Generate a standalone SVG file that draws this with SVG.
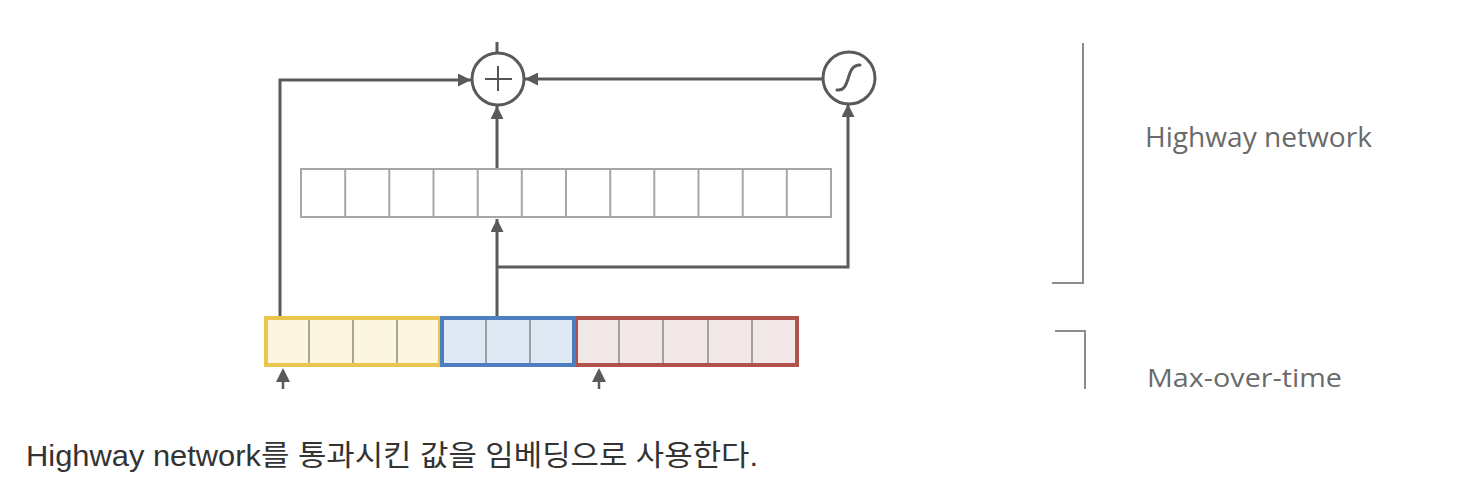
<svg xmlns="http://www.w3.org/2000/svg" width="1466" height="492" viewBox="0 0 1466 492">
<style>
.conn{fill:none;stroke:#5a5a5a;stroke-width:3}
.cell{fill:#fff;stroke:#a6a6a6;stroke-width:2}
.div{stroke:#a9a59a;stroke-width:2}
.lbl{font-family:"Open Sans","Liberation Sans",sans-serif;fill:#6a6a6a}
.brk{fill:none;stroke:#8c8c8c;stroke-width:2}
</style>
<defs>
<marker id="ah" viewBox="0 0 10 10" refX="10" refY="5" markerWidth="13" markerHeight="13" markerUnits="userSpaceOnUse" orient="auto"><path d="M0,0 L10,5 L0,10 z" fill="#5a5a5a"/></marker>
<clipPath id="clipTop"><rect x="0" y="0" width="1466" height="389"/></clipPath>
</defs>
<rect width="1466" height="492" fill="#fff"/>
<g id="connectors" clip-path="url(#clipTop)">
<path class="conn" d="M280,316 V80 H471" marker-end="url(#ah)"/>
<path class="conn" d="M823,79 H525" marker-end="url(#ah)"/>
<path class="conn" d="M497,168 V106" marker-end="url(#ah)"/>
<path class="conn" d="M497,316 V219" marker-end="url(#ah)"/>
<path class="conn" d="M497,267 H848 V104" marker-end="url(#ah)"/>
<path class="conn" d="M497,42 V52"/>
<path class="conn" d="M283,389 V378" style="stroke-width:2.5"/>
<path d="M276,382 L283,368 L290,382 z" fill="#5a5a5a"/>
<path class="conn" d="M599,389 V378" style="stroke-width:2.5"/>
<path d="M592,382 L599,368 L606,382 z" fill="#5a5a5a"/>
</g>
<g id="plus">
<circle cx="498" cy="79" r="26" fill="#fff" stroke="#5a5a5a" stroke-width="3"/>
<path d="M485,79 H512 M498,66 V91" stroke="#555" stroke-width="2" fill="none"/>
</g>
<g id="sigmoid">
<circle cx="849" cy="78" r="26" fill="#fff" stroke="#5a5a5a" stroke-width="3"/>
<path d="M837,90 C844,91 846,85 848,79 C850,72 852,65 860,65" stroke="#5a5a5a" stroke-width="3" fill="none" stroke-linecap="round"/>
</g>
<g id="highway-layer">
<rect class="cell" x="301" y="169" width="530" height="48"/>
<path class="div" style="stroke:#a6a6a6" d="M345.2,169V217 M389.3,169V217 M433.5,169V217 M477.7,169V217 M521.8,169V217 M566,169V217 M610.2,169V217 M654.3,169V217 M698.5,169V217 M742.7,169V217 M786.8,169V217"/>
</g>
<g id="maxpool-yellow">
<rect x="266" y="318" width="174" height="47" fill="#fcf6e1" stroke="#ebc54e" stroke-width="4"/>
<path class="div" d="M309,320V363 M353,320V363 M397,320V363"/>
</g>
<g id="maxpool-red">
<rect x="576" y="318" width="221" height="47" fill="#f3e8e8" stroke="#b0524b" stroke-width="4"/>
<path class="div" style="stroke:#a7a0a0" d="M619,320V363 M663,320V363 M708,320V363 M752,320V363"/>
</g>
<g id="maxpool-blue">
<rect x="442" y="318" width="132" height="47" fill="#dfe8f3" stroke="#4d7fc0" stroke-width="4"/>
<path class="div" style="stroke:#98a0a8" d="M486,320V363 M530,320V363"/>
</g>
<g id="bracket-highway">
<path class="brk" d="M1083,43 V283 H1052"/>
<text class="lbl" x="1145" y="147" font-size="27" textLength="227" lengthAdjust="spacingAndGlyphs">Highway network</text>
</g>
<g id="bracket-max" clip-path="url(#clipTop)">
<path class="brk" d="M1055,331 H1085 V392"/>
<text class="lbl" x="1147" y="387" font-size="25" textLength="195" lengthAdjust="spacingAndGlyphs">Max-over-time</text>
</g>
<g id="caption">
<text x="26" y="466" font-family="'Liberation Sans','Noto Sans CJK KR',sans-serif" font-size="29" fill="#333" textLength="732" lengthAdjust="spacingAndGlyphs">Highway network를 통과시킨 값을 임베딩으로 사용한다.</text>
</g>
</svg>
